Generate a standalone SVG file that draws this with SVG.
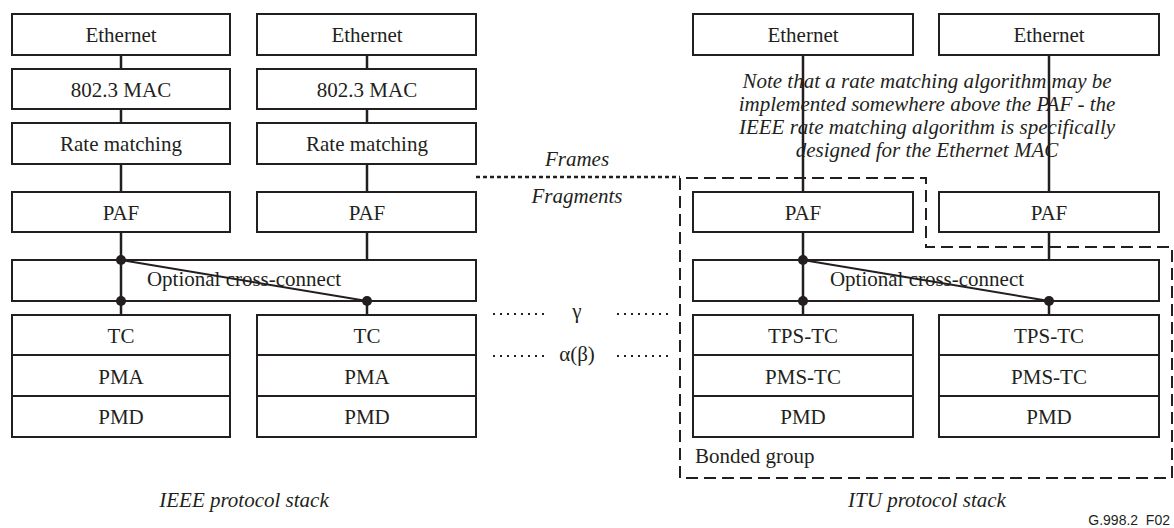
<svg xmlns="http://www.w3.org/2000/svg" width="1174" height="528" viewBox="0 0 1174 528">
<style>
.box{fill:#fff;stroke:#231f20;stroke-width:2}
.t{font-family:'Liberation Serif','Times New Roman',Times,'DejaVu Serif',serif;font-size:21px;fill:#231f20;text-anchor:middle}
.it{font-family:'Liberation Serif','Times New Roman',Times,'DejaVu Serif',serif;font-size:21px;font-style:italic;fill:#231f20;text-anchor:middle}
.ln{stroke:#231f20;stroke-width:2.5;fill:none}
.dot{fill:#231f20}
.dash{stroke:#231f20;stroke-width:2;fill:none;stroke-dasharray:12 6}
.dots{stroke:#231f20;stroke-width:2;fill:none;stroke-dasharray:2 5}
</style>
<rect width="1174" height="528" fill="#fff"/>
<g id="connectors">
<line class="ln" x1="121" y1="55" x2="121" y2="69"/>
<line class="ln" x1="121" y1="109" x2="121" y2="123"/>
<line class="ln" x1="121" y1="164" x2="121" y2="192"/>
<line class="ln" x1="121" y1="232" x2="121" y2="315"/>
<line class="ln" x1="367" y1="55" x2="367" y2="69"/>
<line class="ln" x1="367" y1="109" x2="367" y2="123"/>
<line class="ln" x1="367" y1="164" x2="367" y2="192"/>
<line class="ln" x1="367" y1="232" x2="367" y2="260"/>
<line class="ln" x1="367" y1="301" x2="367" y2="315"/>
<line class="ln" x1="803" y1="55" x2="803" y2="192"/>
<line class="ln" x1="803" y1="232" x2="803" y2="315"/>
<line class="ln" x1="1049" y1="55" x2="1049" y2="192"/>
<line class="ln" x1="1049" y1="232" x2="1049" y2="260"/>
<line class="ln" x1="1049" y1="301" x2="1049" y2="315"/>
</g>
<g id="ieee1-ethernet"><rect class="box" x="12" y="14" width="218" height="41"/><text class="t" x="121" y="42">Ethernet</text></g>
<g id="ieee1-mac"><rect class="box" x="12" y="69" width="218" height="40"/><text class="t" x="121" y="97">802.3 MAC</text></g>
<g id="ieee1-rate"><rect class="box" x="12" y="123" width="218" height="41"/><text class="t" x="121" y="151">Rate matching</text></g>
<g id="ieee1-paf"><rect class="box" x="12" y="192" width="218" height="40"/><text class="t" x="121" y="220">PAF</text></g>
<g id="ieee2-ethernet"><rect class="box" x="257" y="14" width="219" height="41"/><text class="t" x="367" y="42">Ethernet</text></g>
<g id="ieee2-mac"><rect class="box" x="257" y="69" width="219" height="40"/><text class="t" x="367" y="97">802.3 MAC</text></g>
<g id="ieee2-rate"><rect class="box" x="257" y="123" width="219" height="41"/><text class="t" x="367" y="151">Rate matching</text></g>
<g id="ieee2-paf"><rect class="box" x="257" y="192" width="219" height="40"/><text class="t" x="367" y="220">PAF</text></g>
<g id="ieee-xc">
<rect class="box" x="12" y="260" width="464" height="41"/>
<text class="t" x="244" y="286">Optional cross-connect</text>
<line class="ln" x1="121" y1="260" x2="121" y2="301"/>
<line stroke="#231f20" stroke-width="2" x1="121" y1="260" x2="367" y2="301"/>
<circle class="dot" cx="121" cy="260" r="5"/><circle class="dot" cx="121" cy="301" r="5"/><circle class="dot" cx="367" cy="301" r="5"/>
</g>
<g id="ieee1-phy">
<rect class="box" x="12" y="315" width="218" height="40"/><text class="t" x="121" y="343">TC</text>
<rect class="box" x="12" y="355" width="218" height="41"/><text class="t" x="121" y="384">PMA</text>
<rect class="box" x="12" y="396" width="218" height="41"/><text class="t" x="121" y="424">PMD</text>
</g>
<g id="ieee2-phy">
<rect class="box" x="257" y="315" width="219" height="40"/><text class="t" x="367" y="343">TC</text>
<rect class="box" x="257" y="355" width="219" height="41"/><text class="t" x="367" y="384">PMA</text>
<rect class="box" x="257" y="396" width="219" height="41"/><text class="t" x="367" y="424">PMD</text>
</g>
<text class="it" x="244" y="507">IEEE protocol stack</text>
<g id="frames-fragments">
<line class="ln" stroke-width="2" stroke-dasharray="4 3" x1="476" y1="177" x2="680" y2="177"/>
<text class="it" x="577" y="166">Frames</text>
<text class="it" x="577" y="203">Fragments</text>
</g>
<g id="ref-points">
<line class="dots" x1="493" y1="314" x2="545" y2="314"/>
<line class="dots" x1="617" y1="314" x2="669" y2="314"/>
<text class="t" x="577" y="318">γ</text>
<line class="dots" x1="493" y1="356" x2="545" y2="356"/>
<line class="dots" x1="617" y1="356" x2="669" y2="356"/>
<text class="t" x="577" y="361">α(β)</text>
</g>
<g id="itu1-ethernet"><rect class="box" x="693" y="14" width="220" height="41"/><text class="t" x="803" y="42">Ethernet</text></g>
<g id="itu2-ethernet"><rect class="box" x="939" y="14" width="220" height="41"/><text class="t" x="1049" y="42">Ethernet</text></g>
<g id="note">
<text class="it" x="927" y="88">Note that a rate matching algorithm may be</text>
<text class="it" x="927" y="111">implemented somewhere above the PAF - the</text>
<text class="it" x="927" y="134">IEEE rate matching algorithm is specifically</text>
<text class="it" x="927" y="157">designed for the Ethernet MAC</text>
</g>
<g id="itu1-paf"><rect class="box" x="693" y="192" width="220" height="40"/><text class="t" x="803" y="220">PAF</text></g>
<g id="itu2-paf"><rect class="box" x="939" y="192" width="220" height="40"/><text class="t" x="1049" y="220">PAF</text></g>
<g id="itu-xc">
<rect class="box" x="693" y="260" width="466" height="41"/>
<text class="t" x="927" y="286">Optional cross-connect</text>
<line class="ln" x1="803" y1="260" x2="803" y2="301"/>
<line stroke="#231f20" stroke-width="2" x1="803" y1="260" x2="1049" y2="301"/>
<circle class="dot" cx="803" cy="260" r="5"/><circle class="dot" cx="803" cy="301" r="5"/><circle class="dot" cx="1049" cy="301" r="5"/>
</g>
<g id="itu1-phy">
<rect class="box" x="693" y="315" width="220" height="40"/><text class="t" x="803" y="343">TPS-TC</text>
<rect class="box" x="693" y="355" width="220" height="41"/><text class="t" x="803" y="384">PMS-TC</text>
<rect class="box" x="693" y="396" width="220" height="41"/><text class="t" x="803" y="424">PMD</text>
</g>
<g id="itu2-phy">
<rect class="box" x="939" y="315" width="220" height="40"/><text class="t" x="1049" y="343">TPS-TC</text>
<rect class="box" x="939" y="355" width="220" height="41"/><text class="t" x="1049" y="384">PMS-TC</text>
<rect class="box" x="939" y="396" width="220" height="41"/><text class="t" x="1049" y="424">PMD</text>
</g>
<g id="bonded-group">
<path class="dash" d="M680 478 L680 178 L926 178 L926 247 L1172 247 L1172 478 Z"/>
<text class="t" x="695" y="463" style="text-anchor:start">Bonded group</text>
</g>
<text class="it" x="927" y="507">ITU protocol stack</text>
<text x="1170" y="525" font-family="'Liberation Sans',Arial,sans-serif" font-size="14" fill="#231f20" text-anchor="end" xml:space="preserve">G.998.2  F02</text>
</svg>
